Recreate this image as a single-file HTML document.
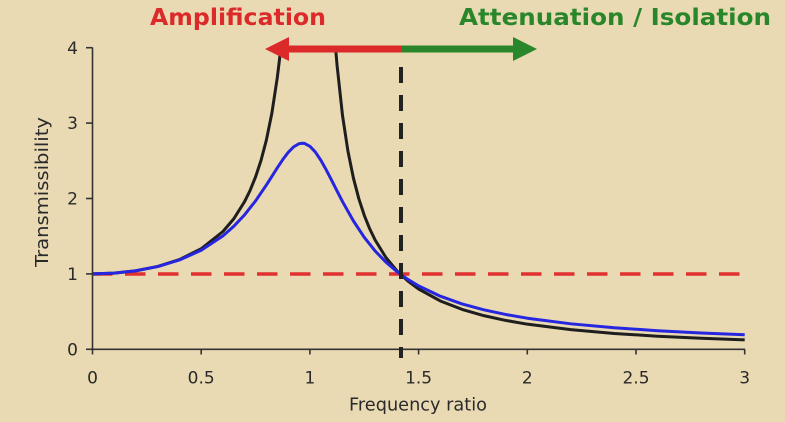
<!DOCTYPE html>
<html>
<head>
<meta charset="utf-8">
<style>
html,body{margin:0;padding:0;background:#e9dab3;}
svg{display:block;}
text{font-family:"DejaVu Sans","Liberation Sans",sans-serif;}
</style>
</head>
<body>
<svg width="785" height="422" viewBox="0 0 785 422" xmlns="http://www.w3.org/2000/svg">
<rect x="0" y="0" width="785" height="422" fill="#e9dab3"/>

<!-- Titles -->
<text x="238" y="25" text-anchor="middle" font-size="23" font-weight="bold" fill="#dc2a2a" textLength="176" lengthAdjust="spacingAndGlyphs">Amplification</text>
<text x="615" y="25" text-anchor="middle" font-size="23" font-weight="bold" fill="#2a862a" textLength="312" lengthAdjust="spacingAndGlyphs">Attenuation / Isolation</text>

<!-- red dashed reference line -->
<line x1="92" y1="274" x2="741" y2="274" stroke="#e03030" stroke-width="3.5" stroke-dasharray="20.5 12.5"/>

<!-- black curve (low damping) -->
<polyline fill="none" stroke="#1e1e1e" stroke-width="3" stroke-linejoin="round" points="92.5,273.9 114.24,273.14 135.98,270.76 157.72,266.44 179.46,259.54 201.2,248.77 222.94,231.49 233.81,218.74 244.68,201.46 250.12,190.35 255.55,176.96 260.99,160.5 266.42,139.86 271.86,113.2 277.29,77.6 279.46,59.76 280.77,47.7"/>
<polyline fill="none" stroke="#1e1e1e" stroke-width="3" stroke-linejoin="round" points="335.55,47.7 337.08,65.45 342.51,115.5 347.95,151.2 353.38,177.94 358.82,198.69 364.25,215.26 369.69,228.78 375.12,240.02 385.99,257.63 396.86,270.76 407.73,280.9 418.6,289.0 440.34,300.97 462.08,309.41 483.82,315.64 505.56,320.41 527.3,324.17 570.78,329.67 614.26,333.46 657.74,336.21 701.22,338.28 744.7,339.88"/>

<!-- blue curve (zeta=0.2) -->
<polyline fill="none" stroke="#2626e0" stroke-width="3" stroke-linejoin="round" points="92.5,273.9 114.24,273.14 135.98,270.78 157.72,266.56 179.46,260.0 201.2,250.24 222.94,235.85 233.81,226.28 244.68,214.72 255.55,200.91 266.42,184.94 271.86,176.41 277.29,167.83 282.73,159.65 288.16,152.43 293.6,146.88 299.03,143.70 302.3,143.23 304.47,143.43 309.9,146.28 315.34,152.04 320.77,160.14 326.2,169.82 331.64,180.34 337.08,191.07 342.51,201.57 353.38,220.86 364.25,237.29 375.12,250.94 385.99,262.21 396.86,271.54 407.73,279.33 418.6,285.88 440.34,296.21 462.08,303.9 483.82,309.81 505.56,314.46 527.3,318.2 570.78,323.81 614.26,327.77 657.74,330.71 701.22,332.97 744.7,334.73"/>

<!-- axes -->
<g stroke="#333" stroke-width="1.6" fill="none">
  <line x1="92.5" y1="47.5" x2="92.5" y2="349.3"/>
  <line x1="92.5" y1="349.3" x2="745" y2="349.3"/>
  <line x1="86" y1="349.3" x2="92.5" y2="349.3"/>
  <line x1="86" y1="273.9" x2="92.5" y2="273.9"/>
  <line x1="86" y1="198.5" x2="92.5" y2="198.5"/>
  <line x1="86" y1="123.1" x2="92.5" y2="123.1"/>
  <line x1="86" y1="47.7" x2="92.5" y2="47.7"/>
  <line x1="92.5" y1="349.3" x2="92.5" y2="354.5"/>
  <line x1="201.2" y1="349.3" x2="201.2" y2="354.5"/>
  <line x1="309.9" y1="349.3" x2="309.9" y2="354.5"/>
  <line x1="418.6" y1="349.3" x2="418.6" y2="354.5"/>
  <line x1="527.3" y1="349.3" x2="527.3" y2="354.5"/>
  <line x1="636" y1="349.3" x2="636" y2="354.5"/>
  <line x1="744.7" y1="349.3" x2="744.7" y2="354.5"/>
</g>

<!-- vertical black dashed line at sqrt(2) -->
<line x1="401" y1="67" x2="401" y2="358" stroke="#222" stroke-width="4" stroke-dasharray="16 12"/>

<!-- arrows -->
<rect x="287" y="45.5" width="114" height="7" fill="#dc2a2a"/>
<polygon points="265,49 289,37 289,61" fill="#dc2a2a"/>
<rect x="401" y="45.5" width="114" height="7" fill="#2a862a"/>
<polygon points="537,49 513,37 513,61" fill="#2a862a"/>

<!-- y tick labels -->
<g font-size="17" fill="#2a2a2a" text-anchor="end">
  <text x="78" y="355.5">0</text>
  <text x="78" y="280">1</text>
  <text x="78" y="204.6">2</text>
  <text x="78" y="129.2">3</text>
  <text x="78" y="53.8">4</text>
</g>
<!-- x tick labels -->
<g font-size="17" fill="#2a2a2a" text-anchor="middle">
  <text x="92.5" y="383.5">0</text>
  <text x="201.2" y="383.5">0.5</text>
  <text x="309.9" y="383.5">1</text>
  <text x="418.6" y="383.5">1.5</text>
  <text x="527.3" y="383.5">2</text>
  <text x="636" y="383.5">2.5</text>
  <text x="744.7" y="383.5">3</text>
</g>

<!-- axis titles -->
<text x="418" y="410.5" text-anchor="middle" font-size="17.5" fill="#2a2a2a" textLength="138" lengthAdjust="spacingAndGlyphs">Frequency ratio</text>
<text transform="translate(48,192) rotate(-90)" x="0" y="0" text-anchor="middle" font-size="18" fill="#2a2a2a" textLength="150" lengthAdjust="spacingAndGlyphs">Transmissibility</text>
</svg>
</body>
</html>
